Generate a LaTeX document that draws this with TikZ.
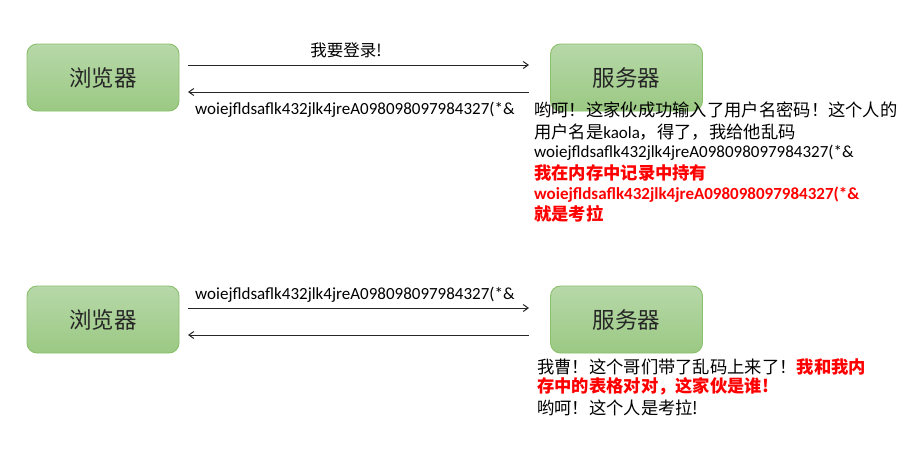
\documentclass[tikz,border=0pt]{standalone}
\usepackage{fontspec}
\setmainfont{Carlito}
\newfontfamily\cjk{Noto Sans CJK SC}
\usetikzlibrary{arrows.meta}
\definecolor{boxtop}{HTML}{B7D8A9}
\definecolor{boxbot}{HTML}{9BC983}
\definecolor{boxline}{HTML}{8ABF6C}
\definecolor{redtxt}{HTML}{FF0000}
\tikzset{
  greenbox/.style={draw=boxline, line width=0.9pt, rounded corners=10pt,
    top color=boxtop, bottom color=boxbot, minimum width=152pt, minimum height=67pt,
    font=\cjk\fontsize{22.5}{26}\selectfont, text=black!85, inner sep=0pt},
  msg/.style={draw=black!85, line width=1pt, -{Straight Barb[length=5pt,width=7pt]}},
  txt/.style={anchor=west, inner sep=0pt, font=\fontsize{17}{20}\selectfont},
  cjktxt/.style={txt, font=\cjk\fontsize{17.3}{20}\selectfont},
  redb/.style={txt, text=redtxt, font=\fontsize{17}{20}\selectfont\bfseries},
  redcjk/.style={txt, text=redtxt, font=\cjk\fontsize{17.3}{20}\selectfont\bfseries},
}
\begin{document}
\begin{tikzpicture}[x=1pt,y=-1pt]
\useasboundingbox (0,0) rectangle (913,451);
% row 1
\node[greenbox] (b1) at (103,77.5) {浏览器};
\node[greenbox] (s1) at (626.5,77.5) {服务器};
\coordinate (a1s) at (188,65);
\coordinate (a1e) at (529,65);
\coordinate (a2s) at (529,92);
\coordinate (a2e) at (188,92);
\draw[msg] (a1s) -- (a1e);
\draw[msg] (a2s) -- (a2e);
\node[font=\cjk\fontsize{16.5}{20}\selectfont, inner sep=0pt] (l1) at (346,50) {我要登录!};
\node[txt] (l2) at (195,110) {woiejfldsaflk432jlk4jreA098098097984327(*\&};
\node[cjktxt] (t1) at (534,110) {哟呵！这家伙成功输入了用户名密码！这个人的};
\node[txt] (t2) at (534,132) {{\cjk\fontsize{17.3}{20}\selectfont 用户名是}kaola{\cjk\fontsize{17.3}{20}\selectfont ，得了，我给他乱码}};
\node[txt] (t3) at (534,153) {woiejfldsaflk432jlk4jreA098098097984327(*\&};
\node[redcjk] (t4) at (534,173) {我在内存中记录中持有};
\node[redb] (t5) at (534,195) {woiejfldsaflk432jlk4jreA098098097984327(*\&};
\node[redcjk] (t6) at (534,214) {就是考拉};
% row 2
\node[greenbox] (b2) at (103,319.5) {浏览器};
\node[greenbox] (s2) at (626.5,319.5) {服务器};
\coordinate (c1s) at (188,308);
\coordinate (c1e) at (529,308);
\coordinate (c2s) at (529,335);
\coordinate (c2e) at (188,335);
\draw[msg] (c1s) -- (c1e);
\draw[msg] (c2s) -- (c2e);
\node[txt] (l3) at (195,295) {woiejfldsaflk432jlk4jreA098098097984327(*\&};
\node[cjktxt] (u1) at (537,367) {我曹！这个哥们带了乱码上来了！{\bfseries\color{redtxt}我和我内}};
\node[redcjk] (u2) at (537,386) {存中的表格对对，这家伙是谁!};
\node[cjktxt] (u3) at (537,408) {哟呵！这个人是考拉!};
\end{tikzpicture}
\end{document}
